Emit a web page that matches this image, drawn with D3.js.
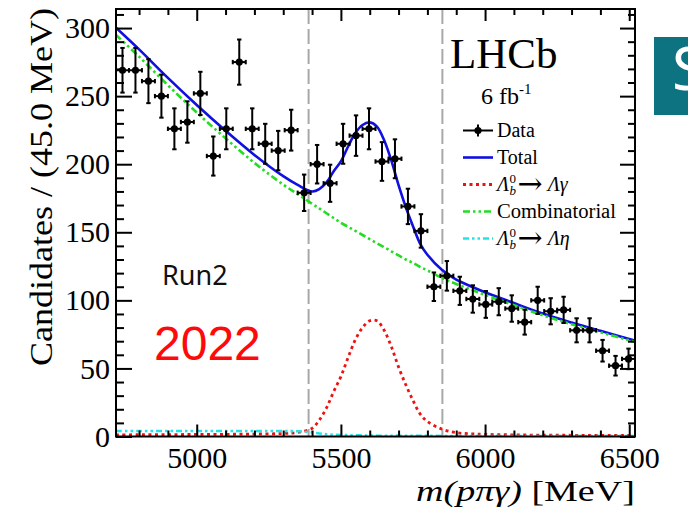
<!DOCTYPE html>
<html>
<head>
<meta charset="utf-8">
<script src="https://cdn.jsdelivr.net/npm/d3@7"></script>
<style>
  body { margin: 0; background: #fff; }
  svg { display: block; }
</style>
</head>
<body>
<svg id="chart" width="688" height="513"></svg>
<script>
// Binning of the m(pπγ) histogram
const binLow = 4720;
const binWidth = 45;
const nBins = 40;

// Candidates per 45 MeV bin
const counts = [269, 269, 261, 250, 226, 231, 252, 206, 226, 275,
                226, 215, 210, 225, 179, 200, 186, 215, 221, 226,
                202, 204, 169, 151, 110, 118, 107, 101, 97, 99,
                94, 84, 100, 92, 93, 78, 78, 63, 52, 57];

// Fit components sampled along the mass axis
const massGrid = [4720, 4800, 4900, 5000, 5100, 5200, 5300, 5350, 5400, 5425,
                  5450, 5475, 5500, 5525, 5550, 5575, 5600, 5625, 5650, 5675,
                  5700, 5725, 5750, 5775, 5800, 5850, 5900, 5950, 6000, 6100,
                  6200, 6300, 6400, 6520];
const combVals = [295, 279, 258, 238, 219, 201, 185, 178, 171, 167.5,
                  164, 160.5, 157, 154, 151, 148, 145, 142, 139, 136,
                  133, 130, 127.5, 124.5, 122, 116.5, 112, 108, 104, 96.5,
                  89, 82.5, 76.5, 69.5];
const sigVals  = [1.2, 1.3, 1.4, 1.5, 1.6, 1.8, 2.2, 3, 6, 12,
                  21, 33, 44, 58, 71, 80, 85, 85, 78, 66,
                  51, 38, 26.5, 16.5, 11, 5.5, 2.8, 2, 1.6, 1.2,
                  1, 0.9, 0.8, 0.7];
const etaVals  = [4, 4, 4, 4, 4, 4, 4, 3.8, 3, 2.2,
                  1.6, 1.3, 1.1, 1, 0.9, 0.8, 0.7, 0.6, 0.6, 0.6,
                  0.6, 0.5, 0.5, 0.5, 0.5, 0.4, 0.4, 0.4, 0.3, 0.3,
                  0.3, 0.3, 0.3, 0.3];

// Axis ticks
const xMajorTicks = [5000, 5500, 6000, 6500];
const xMinorTicks = [4800, 4900, 5100, 5200, 5300, 5400, 5600, 5700, 5800, 5900,
                     6100, 6200, 6300, 6400];
const yMajorTicks = [0, 50, 100, 150, 200, 250, 300];
const yMinorTicks = [10, 20, 30, 40, 60, 70, 80, 90, 110, 120, 130, 140, 160, 170, 180, 190,
                     210, 220, 230, 240, 260, 270, 280, 290, 310];

// Signal window
const windowEdges = [5388, 5852];

const serif = "'Liberation Serif', 'Times New Roman', serif";
const svg = d3.select("#chart");
const frame = { left: 116, right: 635, top: 9, bottom: 436.5 };

const x = d3.scaleLinear().domain([binLow, binLow + nBins * binWidth]).range([frame.left, frame.right]);
const y = d3.scaleLinear().domain([0, 314]).range([frame.bottom, frame.top]);

svg.append("clipPath").attr("id", "plotClip")
  .append("rect")
  .attr("x", frame.left).attr("y", frame.top)
  .attr("width", frame.right - frame.left).attr("height", frame.bottom - frame.top);

// Signal-window markers
svg.append("g").selectAll("line").data(windowEdges).join("line")
  .attr("x1", d => x(d)).attr("x2", d => x(d))
  .attr("y1", frame.top).attr("y2", frame.bottom)
  .attr("stroke", "#a8a8a8").attr("stroke-width", 2)
  .attr("stroke-dasharray", "15 5");

// Fit curves (row = legend row)
const comps = massGrid.map((m, i) => ({
  m, comb: combVals[i], sig: sigVals[i], eta: etaVals[i],
  total: combVals[i] + sigVals[i] + etaVals[i]
}));
const curves = [
  { key: "total", row: 1, color: "#1010e0", dash: null, width: 2.6 },
  { key: "comb", row: 3, color: "#22dd22", dash: "7 3 2.5 3 2.5 3", width: 2.6 },
  { key: "sig", row: 2, color: "#ee1111", dash: "3 3.5", width: 2.8 },
  { key: "eta", row: 4, color: "#22e4e8", dash: "6 3 2.5 3 2.5 3", width: 2.6 }
];
const curveG = svg.append("g").attr("clip-path", "url(#plotClip)");
curves.forEach(c => {
  const line = d3.line()
    .x(d => x(d.m)).y(d => y(d[c.key]))
    .curve(d3.curveCatmullRom.alpha(0.5));
  curveG.append("path").datum(comps)
    .attr("d", line)
    .attr("fill", "none")
    .attr("stroke", c.color)
    .attr("stroke-width", c.width)
    .attr("stroke-dasharray", c.dash);
});

// Axes: ticks point into the frame
function styleAxis(g) {
  g.select(".domain").remove();
  g.selectAll("line").attr("stroke", "#000").attr("stroke-width", 2);
  g.selectAll("text").attr("font-family", serif).attr("font-size", 30).attr("fill", "#000");
}
const noLabel = () => "";
svg.append("g").attr("transform", `translate(0,${frame.bottom})`)
  .call(d3.axisBottom(x).tickValues(xMajorTicks).tickSize(-12).tickPadding(10).tickFormat(d3.format("d")))
  .call(styleAxis);
svg.append("g").attr("transform", `translate(0,${frame.bottom})`)
  .call(d3.axisBottom(x).tickValues(xMinorTicks).tickSize(-6).tickFormat(noLabel))
  .call(styleAxis);
svg.append("g").attr("transform", `translate(0,${frame.top})`)
  .call(d3.axisTop(x).tickValues(xMajorTicks).tickSize(-12).tickFormat(noLabel))
  .call(styleAxis);
svg.append("g").attr("transform", `translate(0,${frame.top})`)
  .call(d3.axisTop(x).tickValues(xMinorTicks).tickSize(-6).tickFormat(noLabel))
  .call(styleAxis);
svg.append("g").attr("transform", `translate(${frame.left},0)`)
  .call(d3.axisLeft(y).tickValues(yMajorTicks).tickSize(-16).tickPadding(6))
  .call(styleAxis);
svg.append("g").attr("transform", `translate(${frame.left},0)`)
  .call(d3.axisLeft(y).tickValues(yMinorTicks).tickSize(-8).tickFormat(noLabel))
  .call(styleAxis);
svg.append("g").attr("transform", `translate(${frame.right},0)`)
  .call(d3.axisRight(y).tickValues(yMajorTicks).tickSize(-15).tickFormat(noLabel))
  .call(styleAxis);
svg.append("g").attr("transform", `translate(${frame.right},0)`)
  .call(d3.axisRight(y).tickValues(yMinorTicks).tickSize(-7).tickFormat(noLabel))
  .call(styleAxis);

svg.append("rect")
  .attr("x", frame.left).attr("y", frame.top)
  .attr("width", frame.right - frame.left).attr("height", frame.bottom - frame.top)
  .attr("fill", "none").attr("stroke", "#000").attr("stroke-width", 2);

// Data points with Poisson errors and bin-width bars
const points = counts.map((n, i) => ({
  lo: binLow + i * binWidth, hi: binLow + (i + 1) * binWidth,
  c: binLow + (i + 0.5) * binWidth, n, err: Math.sqrt(n)
}));
const cap = 2.2;
const pg = svg.append("g").attr("stroke", "#000").attr("stroke-width", 2);
points.forEach(p => {
  const g = pg.append("g");
  const cx = x(p.c), cy = y(p.n);
  const yt = y(p.n + p.err), yb = y(p.n - p.err);
  g.append("line").attr("x1", cx).attr("x2", cx).attr("y1", yt).attr("y2", yb);
  g.append("line").attr("x1", x(p.lo)).attr("x2", x(p.hi)).attr("y1", cy).attr("y2", cy);
  g.append("line").attr("x1", cx - cap).attr("x2", cx + cap).attr("y1", yt).attr("y2", yt);
  g.append("line").attr("x1", cx - cap).attr("x2", cx + cap).attr("y1", yb).attr("y2", yb);
  g.append("line").attr("x1", x(p.lo)).attr("x2", x(p.lo)).attr("y1", cy - cap).attr("y2", cy + cap);
  g.append("line").attr("x1", x(p.hi)).attr("x2", x(p.hi)).attr("y1", cy - cap).attr("y2", cy + cap);
});
svg.append("g").selectAll("circle").data(points).join("circle")
  .attr("cx", d => x(d.c)).attr("cy", d => y(d.n)).attr("r", 3.6).attr("fill", "#000");

// Stretch a text horizontally (in its own frame) to a target width
function fitWidth(sel, tx, ty, rot, target) {
  const w = sel.node().getComputedTextLength();
  const s = target / w;
  sel.attr("transform", `translate(${tx},${ty}) rotate(${rot}) scale(${s},1)`);
}

// Axis titles
const yTitle = svg.append("text")
  .attr("text-anchor", "middle")
  .attr("font-family", serif).attr("font-size", 32)
  .text("Candidates / (45.0 MeV)");
fitWidth(yTitle, 52, 187, -90, 358);

const xTitle = svg.append("text")
  .attr("font-family", serif).attr("font-size", 30);
xTitle.append("tspan").attr("font-style", "italic").text("m(pπγ)");
xTitle.append("tspan").text(" [MeV]");
fitWidth(xTitle, 416, 501, 0, 219);

// Experiment label
svg.append("text").attr("x", 450).attr("y", 68)
  .attr("font-family", serif).attr("font-size", 43).text("LHCb");
const lumi = svg.append("text").attr("x", 481).attr("y", 104)
  .attr("font-family", serif).attr("font-size", 24);
lumi.append("tspan").text("6 fb");
lumi.append("tspan").attr("font-size", 15).attr("dy", -10).text("-1");

// Legend
const legendX = 463, legendLen = 30, legendTextX = 497;
const legendRows = [136.5, 163.5, 190.5, 217.5, 244.5];
const lg = svg.append("g");
// Data
lg.append("line").attr("x1", legendX).attr("x2", legendX + legendLen)
  .attr("y1", legendRows[0] - 6).attr("y2", legendRows[0] - 6).attr("stroke", "#000").attr("stroke-width", 2);
lg.append("line").attr("x1", legendX + legendLen / 2).attr("x2", legendX + legendLen / 2)
  .attr("y1", legendRows[0] - 12).attr("y2", legendRows[0]).attr("stroke", "#000").attr("stroke-width", 2);
lg.append("circle").attr("cx", legendX + legendLen / 2).attr("cy", legendRows[0] - 6).attr("r", 3.6);
// Curve samples
curves.forEach(c => {
  lg.append("line").attr("x1", legendX).attr("x2", legendX + legendLen)
    .attr("y1", legendRows[c.row] - 6).attr("y2", legendRows[c.row] - 6)
    .attr("stroke", c.color).attr("stroke-width", c.width).attr("stroke-dasharray", c.dash);
});
const legendFont = 20;
lg.append("text").attr("x", legendTextX).attr("y", legendRows[0])
  .attr("font-family", serif).attr("font-size", legendFont).text("Data");
lg.append("text").attr("x", legendTextX).attr("y", legendRows[1])
  .attr("font-family", serif).attr("font-size", legendFont).text("Total");
const combText = lg.append("text")
  .attr("font-family", serif).attr("font-size", legendFont).text("Combinatorial");
fitWidth(combText, legendTextX, legendRows[3], 0, 119);

function decayLabel(row, finalState) {
  const t = lg.append("text").attr("x", legendTextX).attr("y", legendRows[row])
    .attr("font-family", serif).attr("font-size", legendFont);
  t.append("tspan").attr("font-style", "italic").text("Λ");
  t.append("tspan").attr("font-size", 13).attr("dx", 0.5).attr("dy", -8).text("0");
  t.append("tspan").attr("font-size", 13).attr("font-style", "italic").attr("dx", -6.5).attr("dy", 12).text("b");
  t.append("tspan").attr("font-size", 30).attr("dx", 1.5).attr("dy", -1)
    .attr("font-family", "'DejaVu Serif', serif").text("→");
  t.append("tspan").attr("font-style", "italic").attr("dx", 5).attr("dy", -3).text(finalState);
}
decayLabel(2, "Λγ");
decayLabel(4, "Λη");

// Annotations
svg.append("text").attr("x", 162).attr("y", 285)
  .attr("font-family", "'Noto Sans', 'Open Sans', sans-serif").attr("font-size", 27)
  .attr("fill", "#111").text("Run2");
svg.append("text").attr("x", 154).attr("y", 360)
  .attr("font-family", "'Liberation Sans', Arial, sans-serif").attr("font-size", 48)
  .attr("fill", "#ff0a0a").text("2022");

// Corner badge
svg.append("rect").attr("x", 654).attr("y", 37).attr("width", 40).attr("height", 78)
  .attr("fill", "#0d7381");
svg.append("text").attr("x", 672).attr("y", 90)
  .attr("font-family", "'Noto Sans', 'Open Sans', sans-serif").attr("font-size", 60)
  .attr("fill", "#fff").text("S");
</script>
</body>
</html>
